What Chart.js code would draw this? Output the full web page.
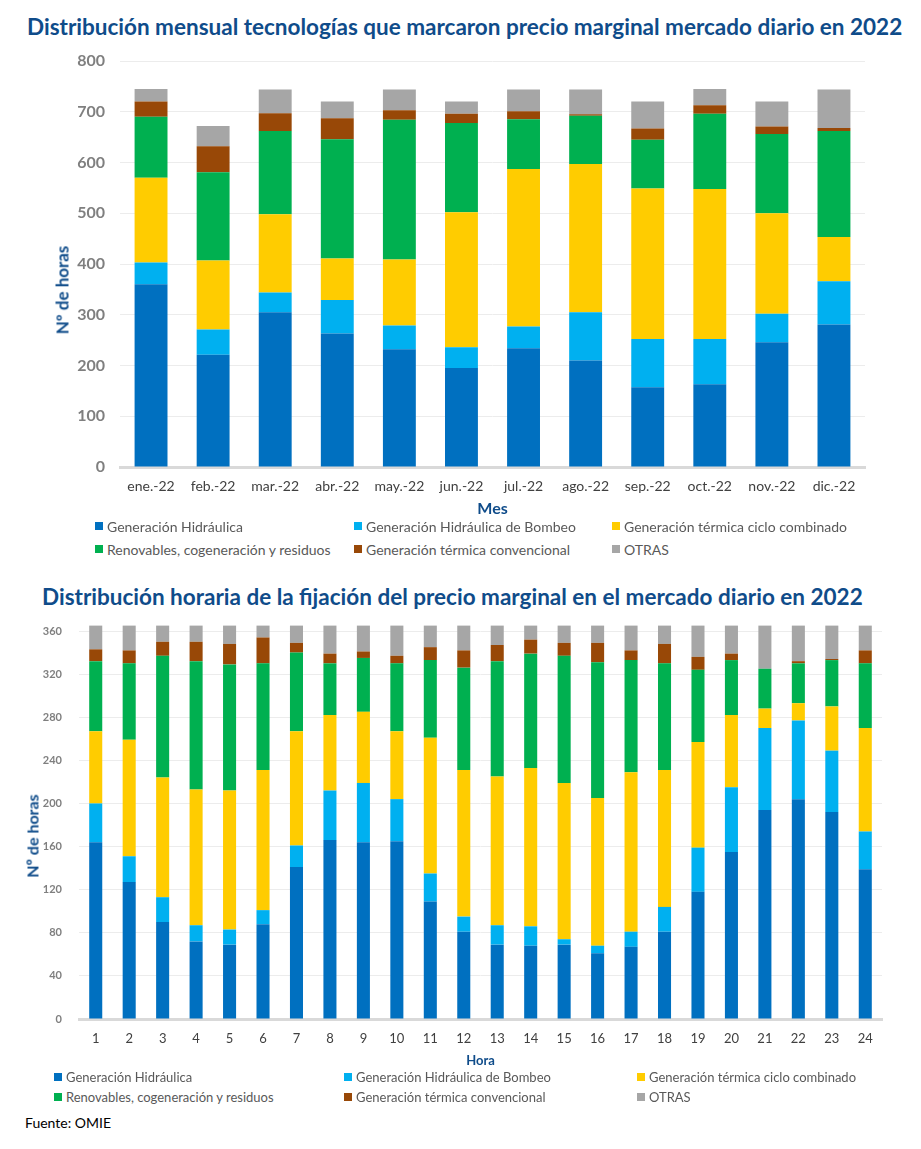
<!DOCTYPE html>
<html>
<head>
<meta charset="utf-8">
<script src="https://cdn.jsdelivr.net/npm/chart.js@4.4.1/dist/chart.umd.min.js"></script>
<style>
  html, body { margin: 0; padding: 0; background: #fff; }
  body { width: 921px; height: 1149px; position: relative; overflow: hidden; font-family: Lato, "Open Sans", sans-serif; }
  .ttl { position: absolute; white-space: nowrap; font-weight: bold; color: #0f4c8a; }
  .ytl { position: absolute; white-space: nowrap; font-weight: bold; color: #0f4c8a; transform: translate(-50%, -50%) rotate(-90deg); }
  .cv  { position: absolute; left: 0; }
  .leg { position: absolute; white-space: nowrap; color: #595959; }
  .leg-item { position: absolute; display: flex; align-items: center; }
  .leg-dot { width: 8px; height: 8px; margin-right: 4px; flex: none; }
  .src { position: absolute; left: 25px; top: 1114px; font-size: 14px; color: #000; }
</style>
</head>
<body>

<div class="ttl" style="left:27px; top:13px; font-size:22.5px;">Distribución mensual tecnologías que marcaron precio marginal mercado diario en 2022</div>
<div class="cv" style="top:40px; width:900px; height:480px;"><canvas id="chart-mes"></canvas></div>
<div class="ytl" style="left:62px; top:290px; font-size:17px;">Nº de horas</div>
<div class="leg" id="leg-mes"></div>

<div class="ttl" style="left:42px; top:583px; font-size:22.5px;">Distribución horaria de la fijación del precio marginal en el mercado diario en 2022</div>
<div class="cv" style="top:612px; width:921px; height:458px;"><canvas id="chart-hora"></canvas></div>
<div class="ytl" style="left:32px; top:836px; font-size:16px;">Nº de horas</div>
<div class="leg" id="leg-hora"></div>

<div class="src">Fuente: OMIE</div>

<script>
/* ── data ─────────────────────────────────────────────── */
var SERIES = [
  'Generación Hidráulica',
  'Generación Hidráulica de Bombeo',
  'Generación térmica ciclo combinado',
  'Renovables, cogeneración y residuos',
  'Generación térmica convencional',
  'OTRAS'
];
var COLORS = ['#0070c0', '#00b0f0', '#ffcc00', '#00b050', '#984807', '#a6a6a6'];

var MESES = ['ene.-22', 'feb.-22', 'mar.-22', 'abr.-22', 'may.-22', 'jun.-22',
             'jul.-22', 'ago.-22', 'sep.-22', 'oct.-22', 'nov.-22', 'dic.-22'];
var MES_HIDRO  = [360, 221, 305, 263, 232, 195, 234, 210, 157, 163, 246, 281];
var MES_BOMBEO = [43, 50, 39, 66, 47, 41, 43, 95, 95, 89, 56, 85];
var MES_CICLO  = [167, 136, 154, 82, 130, 266, 310, 292, 297, 296, 198, 87];
var MES_RENOV  = [120, 174, 164, 235, 275, 176, 98, 95, 96, 148, 156, 209];
var MES_CONV   = [30, 51, 35, 41, 19, 18, 16, 3, 22, 17, 15, 6];
var MES_OTRAS  = [25, 40, 47, 33, 41, 24, 43, 49, 53, 32, 49, 76];

var HORAS = ['1', '2', '3', '4', '5', '6', '7', '8', '9', '10', '11', '12',
             '13', '14', '15', '16', '17', '18', '19', '20', '21', '22', '23', '24'];
var HORA_HIDRO  = [164, 127, 90, 72, 69, 88, 141, 166, 164, 165, 109, 81, 69, 68, 69, 61, 67, 81, 118, 155, 194, 204, 192, 139];
var HORA_BOMBEO = [36, 24, 23, 15, 14, 13, 20, 46, 55, 39, 26, 14, 18, 18, 5, 7, 14, 23, 41, 60, 76, 73, 57, 35];
var HORA_CICLO  = [67, 108, 111, 126, 129, 130, 106, 70, 66, 63, 126, 136, 138, 147, 145, 137, 148, 127, 98, 67, 18, 16, 41, 96];
var HORA_RENOV  = [65, 71, 113, 119, 117, 99, 73, 48, 50, 63, 72, 95, 107, 106, 118, 126, 104, 99, 67, 51, 37, 37, 43, 60];
var HORA_CONV   = [11, 12, 13, 18, 19, 24, 9, 9, 6, 7, 12, 16, 15, 13, 12, 18, 9, 18, 12, 6, 0, 2, 1, 12];
var HORA_OTRAS  = [22, 23, 15, 15, 17, 11, 16, 26, 24, 28, 20, 23, 18, 13, 16, 16, 23, 17, 29, 26, 40, 33, 31, 23];

var FONT = 'Lato, "Open Sans", sans-serif';
var AXIS_BLUE = '#0f4c8a';

/* ── stacked bar chart ────────────────────────────────── */
function drawStack(id, labels, rows, o) {
  var el = document.getElementById(id);
  return new Chart(el, {
    type: 'bar',
    data: {
      labels: labels,
      datasets: rows.map(function(r, i) {
        return {
          label: SERIES[i],
          data: r,
          backgroundColor: COLORS[i],
          borderWidth: 0,
          barPercentage: o.bar,
          categoryPercentage: 1,
          clip: false
        };
      })
    },
    options: {
      responsive: true,
      maintainAspectRatio: false,
      animation: false,
      layout: { padding: o.pad },
      plugins: { legend: { display: false }, tooltip: { enabled: false } },
      scales: {
        x: {
          stacked: true,
          grid: { display: false },
          border: { color: '#d9d9d9', width: 3 },
          ticks: { color: '#404040', padding: o.xPad, maxRotation: 0, autoSkip: false,
                   font: { family: FONT, size: o.xSize } },
          title: { display: true, text: o.xTitle, color: AXIS_BLUE, padding: { top: 0, bottom: o.xTitlePad },
                   font: { family: FONT, size: o.xTitleSize, weight: 'bold' } },
          afterFit: function(s) { s.height = o.xH; }
        },
        y: {
          stacked: true,
          min: 0, max: o.max,
          grid: { color: '#ececec', lineWidth: 1, drawTicks: false },
          border: { display: false },
          ticks: { stepSize: o.step, color: '#7f7f7f', padding: o.yPad,
                   font: { family: FONT, size: o.ySize, weight: 'bold' } },
          // fixed axis box; layout padding alone sets the plot top
          afterFit: function(s) { s.width = o.yW; s.paddingTop = 0; s.paddingBottom = 0; }
        }
      }
    }
  });
}

/* ── html legend in three columns ─────────────────────── */
function drawLegend(id, cols, rowsY, size) {
  var el = document.getElementById(id);
  el.style.fontSize = size + 'px';
  el.innerHTML = SERIES.map(function(s, i) {
    var x = cols[i % 3], y = rowsY[Math.floor(i / 3)];
    return (
      '<div class="leg-item" style="left:' + x + 'px;top:' + (y - 10) + 'px;height:20px">' +
        '<div class="leg-dot" style="background:' + COLORS[i] + '"></div>' + s +
      '</div>'
    );
  }).join('');
}

drawStack('chart-mes', MESES,
  [MES_HIDRO, MES_BOMBEO, MES_CICLO, MES_RENOV, MES_CONV, MES_OTRAS],
  { bar: 0.53, max: 800, step: 100, pad: { top: 21, right: 35, left: 0, bottom: 0 },
    xH: 53, xPad: 3, xSize: 14, xTitle: 'Mes', xTitlePad: 2, xTitleSize: 16,
    yW: 120, yPad: 15, ySize: 16 });

drawStack('chart-hora', HORAS,
  [HORA_HIDRO, HORA_BOMBEO, HORA_CICLO, HORA_RENOV, HORA_CONV, HORA_OTRAS],
  { bar: 0.39, max: 360, step: 40, pad: { top: 19, right: 39, left: 0, bottom: 0 },
    xH: 51, xPad: 4, xSize: 13, xTitle: 'Hora', xTitlePad: 1, xTitleSize: 13,
    yW: 79, yPad: 17, ySize: 11 });

drawLegend('leg-mes', [95, 354, 612], [526, 549], 14);
drawLegend('leg-hora', [54, 344, 637], [1077, 1097], 13);
</script>
</body>
</html>
